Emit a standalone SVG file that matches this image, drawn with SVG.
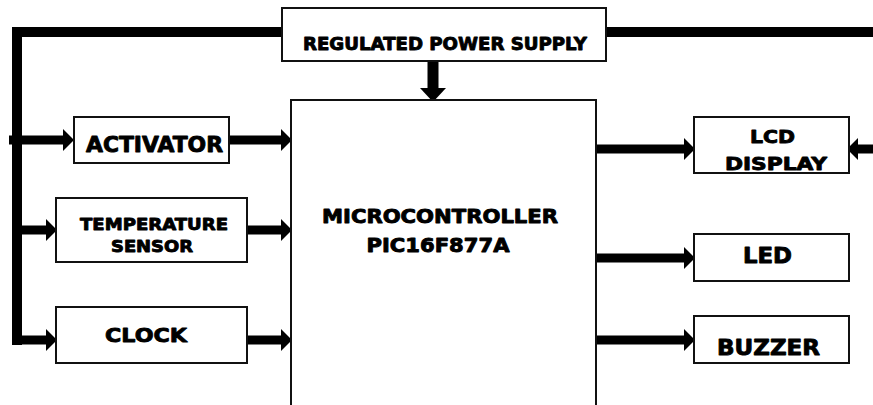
<svg xmlns="http://www.w3.org/2000/svg" width="873" height="405" viewBox="0 0 873 405">
<style>
.box{fill:#fff;stroke:#111;stroke-width:2}
.t{font-family:"DejaVu Sans","Liberation Sans",sans-serif;font-weight:bold;fill:#000;stroke:#000;stroke-width:0.9;stroke-linejoin:round;text-anchor:middle}
.w{fill:none;stroke:#000;stroke-width:9}
.bus{fill:none;stroke:#000;stroke-width:10;stroke-linejoin:miter}
</style>
<defs>
<marker id="ah" markerUnits="userSpaceOnUse" markerWidth="11" markerHeight="22" refX="0" refY="11" orient="auto" overflow="visible">
<path d="M0,0 L11,11 L0,22 Z" fill="#000"/>
</marker>
<marker id="ahd" markerUnits="userSpaceOnUse" markerWidth="14" markerHeight="26" refX="0" refY="13" orient="auto" overflow="visible">
<path d="M0,0 L14,13 L0,26 Z" fill="#000"/>
</marker>
</defs>
<rect width="873" height="405" fill="#fff"/>
<g id="connectors">
<path class="bus" d="M283,32 H17 V345"/>
<path class="bus" d="M605,32 H873"/>
<path class="w" d="M9,140 H63" marker-end="url(#ah)"/>
<path class="w" d="M228,140 H281" marker-end="url(#ah)"/>
<path class="w" d="M22,230 H46" marker-end="url(#ah)"/>
<path class="w" d="M246,230 H281" marker-end="url(#ah)"/>
<path class="w" d="M22,340 H46" marker-end="url(#ah)"/>
<path class="w" d="M246,340 H281" marker-end="url(#ah)"/>
<path class="w" d="M594,149 H684" marker-end="url(#ah)"/>
<path class="w" d="M873,149 H858" marker-end="url(#ah)"/>
<path class="w" d="M594,258 H684" marker-end="url(#ah)"/>
<path class="w" d="M594,340 H684" marker-end="url(#ah)"/>
<path class="w" style="stroke-width:11" d="M433,61 V88" marker-end="url(#ahd)"/>
</g>
<g id="mcu">
<rect class="box" x="291" y="100" width="305" height="330"/>
<text class="t" x="440" y="223" font-size="19" textLength="236" lengthAdjust="spacingAndGlyphs">MICROCONTROLLER</text>
<text class="t" x="438" y="252" font-size="19" textLength="143" lengthAdjust="spacingAndGlyphs">PIC16F877A</text>
</g>
<g id="power">
<rect class="box" x="282" y="8" width="324" height="53"/>
<text class="t" x="445" y="50" font-size="17.5" textLength="284" lengthAdjust="spacingAndGlyphs">REGULATED POWER SUPPLY</text>
</g>
<g id="activator">
<rect class="box" x="74" y="117" width="155" height="46"/>
<text class="t" x="154.5" y="152" font-size="21" textLength="137" lengthAdjust="spacingAndGlyphs">ACTIVATOR</text>
</g>
<g id="temperature">
<rect class="box" x="56" y="198" width="191" height="64"/>
<text class="t" x="154" y="230" font-size="16.5" textLength="148" lengthAdjust="spacingAndGlyphs">TEMPERATURE</text>
<text class="t" x="152" y="252" font-size="16.5" textLength="82" lengthAdjust="spacingAndGlyphs">SENSOR</text>
</g>
<g id="clock">
<rect class="box" x="56" y="307" width="191" height="56"/>
<text class="t" x="146" y="342" font-size="20" textLength="82" lengthAdjust="spacingAndGlyphs">CLOCK</text>
</g>
<g id="lcd">
<rect class="box" x="694" y="117" width="155" height="56"/>
<text class="t" x="772.5" y="143" font-size="18" textLength="45" lengthAdjust="spacingAndGlyphs">LCD</text>
<text class="t" x="776" y="170" font-size="18" textLength="102" lengthAdjust="spacingAndGlyphs">DISPLAY</text>
</g>
<g id="led">
<rect class="box" x="694" y="234" width="155" height="47"/>
<text class="t" x="767.5" y="263" font-size="22" textLength="49" lengthAdjust="spacingAndGlyphs">LED</text>
</g>
<g id="buzzer">
<rect class="box" x="694" y="316" width="155" height="47"/>
<text class="t" x="768.5" y="355" font-size="22" textLength="103" lengthAdjust="spacingAndGlyphs">BUZZER</text>
</g>
</svg>
